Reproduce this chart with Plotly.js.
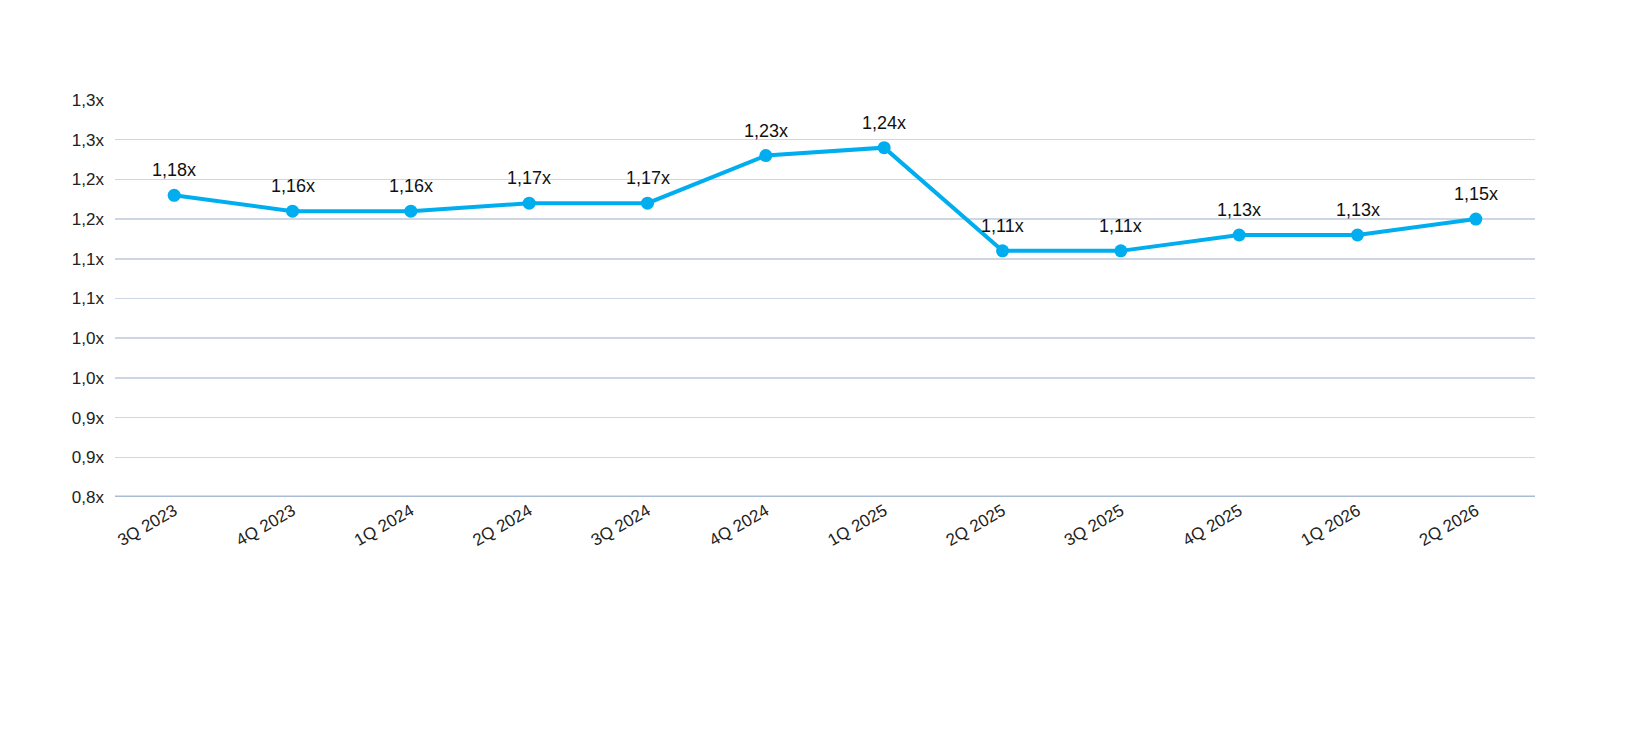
<!DOCTYPE html>
<html>
<head>
<meta charset="utf-8">
<script src="https://cdn.plot.ly/plotly-3.0.1.min.js"></script>
<style>
  html, body { margin: 0; padding: 0; background: #fff; overflow: hidden; }
  #chart { width: 100vw; height: 100vh; }
</style>
</head>
<body>
<div id="chart"></div>
<script>
// quarters on the x axis
var quarters = ['3Q 2023', '4Q 2023', '1Q 2024', '2Q 2024', '3Q 2024', '4Q 2024',
                '1Q 2025', '2Q 2025', '3Q 2025', '4Q 2025', '1Q 2026', '2Q 2026'];
// multiple
var multiples = [1.18, 1.16, 1.16, 1.17, 1.17, 1.23, 1.24, 1.11, 1.11, 1.13, 1.13, 1.15];
// y ticks and their labels as printed (one decimal, so neighbours repeat)
var yTicks = [0.80, 0.85, 0.90, 0.95, 1.00, 1.05, 1.10, 1.15, 1.20, 1.25, 1.30];
var yTickText = ['0,8x', '0,9x', '0,9x', '1,0x', '1,0x', '1,1x', '1,1x', '1,2x', '1,2x', '1,3x', '1,3x'];

var lineColor = '#00aeef';
var fontFam = 'Liberation Sans, Arial, sans-serif';

var trace = {
  x: quarters,
  y: multiples,
  type: 'scatter',
  mode: 'lines+markers',
  line: {color: lineColor, width: 4},
  marker: {color: lineColor, size: 13},
  cliponaxis: false,
  hoverinfo: 'x+y'
};

// value labels above each point
var labels = [];
for (var i = 0; i < quarters.length; i++) {
  labels.push({
    x: quarters[i],
    y: multiples[i],
    xref: 'x', yref: 'y',
    text: multiples[i].toFixed(2).replace('.', ',') + 'x',
    showarrow: false,
    yshift: 25,
    font: {family: fontFam, size: 18, color: '#111'}
  });
}

var layout = {
  autosize: true,
  margin: {l: 115, r: 116, t: 100, b: 247},
  paper_bgcolor: '#fff',
  plot_bgcolor: '#fff',
  showlegend: false,
  font: {family: fontFam, size: 17, color: '#222'},
  xaxis: {
    type: 'category',
    range: [-0.5, 11.5],
    showgrid: false,
    zeroline: false,
    showline: false,
    tickangle: -30,
    ticks: '',
    tickfont: {size: 17, color: '#222'}
  },
  yaxis: {
    range: [0.8, 1.3],
    tickmode: 'array',
    tickvals: yTicks,
    ticktext: yTickText,
    showgrid: true,
    gridcolor: '#cdd7e3',
    gridwidth: 1.5,
    zeroline: false,
    showline: false,
    ticks: '',
    ticklabelstandoff: 10,
    tickfont: {size: 17, color: '#222'}
  },
  annotations: labels,
  shapes: [{
    type: 'line', xref: 'paper', yref: 'y',
    x0: 0, x1: 1, y0: 0.8, y1: 0.8,
    line: {color: '#a9bcd4', width: 3}
  }]
};

Plotly.newPlot('chart', [trace], layout, {displayModeBar: false, staticPlot: true, responsive: true});
</script>
</body>
</html>
